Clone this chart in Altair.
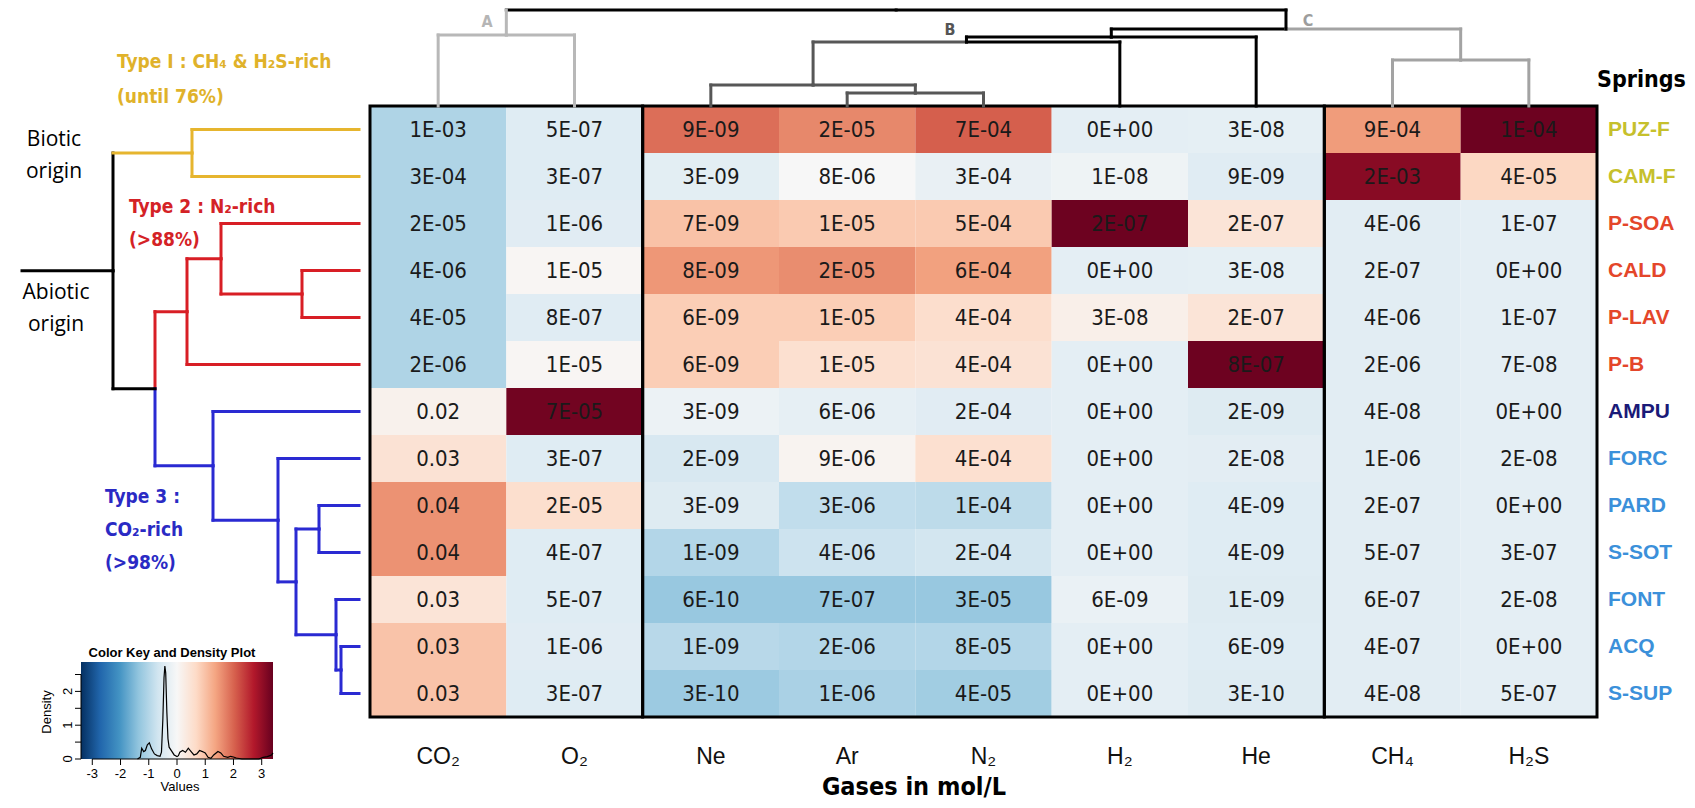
import altair as alt
import pandas as pd

# ---------------- data ----------------
springs = ["PUZ-F", "CAM-F", "P-SOA", "CALD", "P-LAV", "P-B", "AMPU",
           "FORC", "PARD", "S-SOT", "FONT", "ACQ", "S-SUP"]
spring_type = ["T1", "T1", "T2", "T2", "T2", "T2", "AMPU",
               "T3", "T3", "T3", "T3", "T3", "T3"]
gases = ["CO2", "O2", "Ne", "Ar", "N2", "H2", "He", "CH4", "H2S"]
gas_labels = ["CO₂", "O₂", "Ne", "Ar", "N₂", "H₂", "He", "CH₄", "H₂S"]
gas_groups = [["CO2", "O2"], ["Ne", "Ar", "N2", "H2", "He"], ["CH4", "H2S"]]

# concentrations shown in the cells (mol/L), one list per gas, rows in spring order
conc_CO2 = ["1E-03", "3E-04", "2E-05", "4E-06", "4E-05", "2E-06", "0.02", "0.03", "0.04", "0.04", "0.03", "0.03", "0.03"]
conc_O2 = ["5E-07", "3E-07", "1E-06", "1E-05", "8E-07", "1E-05", "7E-05", "3E-07", "2E-05", "4E-07", "5E-07", "1E-06", "3E-07"]
conc_Ne = ["9E-09", "3E-09", "7E-09", "8E-09", "6E-09", "6E-09", "3E-09", "2E-09", "3E-09", "1E-09", "6E-10", "1E-09", "3E-10"]
conc_Ar = ["2E-05", "8E-06", "1E-05", "2E-05", "1E-05", "1E-05", "6E-06", "9E-06", "3E-06", "4E-06", "7E-07", "2E-06", "1E-06"]
conc_N2 = ["7E-04", "3E-04", "5E-04", "6E-04", "4E-04", "4E-04", "2E-04", "4E-04", "1E-04", "2E-04", "3E-05", "8E-05", "4E-05"]
conc_H2 = ["0E+00", "1E-08", "2E-07", "0E+00", "3E-08", "0E+00", "0E+00", "0E+00", "0E+00", "0E+00", "6E-09", "0E+00", "0E+00"]
conc_He = ["3E-08", "9E-09", "2E-07", "3E-08", "2E-07", "8E-07", "2E-09", "2E-08", "4E-09", "4E-09", "1E-09", "6E-09", "3E-10"]
conc_CH4 = ["9E-04", "2E-03", "4E-06", "2E-07", "4E-06", "2E-06", "4E-08", "1E-06", "2E-07", "5E-07", "6E-07", "4E-07", "4E-08"]
conc_H2S = ["1E-04", "4E-05", "1E-07", "0E+00", "1E-07", "7E-08", "0E+00", "2E-08", "0E+00", "3E-07", "2E-08", "0E+00", "5E-07"]

# column-scaled values (z-scores)
z_CO2 = [-1.05, -1.05, -1.05, -1.05, -1.05, -1.05, 0.15, 0.5, 1.55, 1.55, 0.45, 0.98, 0.98]
z_O2 = [-0.43, -0.43, -0.4, 0.06, -0.42, 0.06, 3.3, -0.43, 0.58, -0.43, -0.43, -0.4, -0.43]
z_Ne = [1.9, -0.35, 1.0, 1.5, 0.85, 0.85, -0.2, -0.55, -0.45, -1.0, -1.3, -0.95, -1.25]
z_Ar = [1.65, 0.0, 0.9, 1.6, 0.85, 0.55, -0.3, 0.1, -0.85, -0.72, -1.3, -1.0, -1.1]
z_N2 = [2.05, -0.25, 0.9, 1.4, 0.6, 0.5, -0.4, 0.55, -0.9, -0.65, -1.3, -1.0, -1.2]
z_H2 = [-0.34, -0.16, 3.35, -0.34, 0.2, -0.34, -0.34, -0.34, -0.34, -0.34, -0.24, -0.34, -0.34]
z_He = [-0.32, -0.41, 0.45, -0.32, 0.45, 3.35, -0.44, -0.36, -0.43, -0.43, -0.45, -0.43, -0.45]
z_CH4 = [1.45, 3.1, -0.38, -0.38, -0.38, -0.38, -0.38, -0.37, -0.38, -0.38, -0.38, -0.38, -0.38]
z_H2S = [3.35, 0.72, -0.34, -0.34, -0.34, -0.34, -0.34, -0.34, -0.34, -0.34, -0.34, -0.34, -0.34]

conc_cols = [conc_CO2, conc_O2, conc_Ne, conc_Ar, conc_N2, conc_H2, conc_He, conc_CH4, conc_H2S]
z_cols = [z_CO2, z_O2, z_Ne, z_Ar, z_N2, z_H2, z_He, z_CH4, z_H2S]

# row dendrogram (springs): (child a, child b, merge height)
row_merges = [
    ("PUZ-F", "CAM-F", 167),   # m0
    ("CALD", "P-LAV", 57),     # m1
    ("P-SOA", "m1", 138),      # m2
    ("m2", "P-B", 172),        # m3
    ("PARD", "S-SOT", 40),     # m4
    ("ACQ", "S-SUP", 18),      # m5
    ("FONT", "m5", 23),        # m6
    ("m4", "m6", 63),          # m7
    ("FORC", "m7", 81),        # m8
    ("AMPU", "m8", 146),       # m9
    ("m3", "m9", 204),         # m10
    ("m0", "m10", 246),        # m11 (root)
]
row_stub_top = 337
row_leaf_colors = ["#e6b52e"] * 2 + ["#d81e25"] * 4 + ["#2a2ad2"] * 7
row_node_colors = ["#e6b52e", "#d81e25", "#d81e25", "#d81e25"] + ["#2a2ad2"] * 6 + ["black", "black"]

# column dendrogram (gases)
col_merges = [
    ("CO2", "O2", 71),   # m0  A
    ("Ar", "N2", 13),    # m1
    ("Ne", "m1", 21),    # m2
    ("m2", "H2", 64),    # m3
    ("m3", "He", 69),    # m4  B
    ("CH4", "H2S", 46),  # m5  C
    ("m4", "m5", 77),    # m6
    ("m0", "m6", 96),    # m7 (root)
]
col_leaf_colors = ["#b8b8b8", "#b8b8b8", "#575757", "#575757", "#575757", "black", "black", "#a3a3a3", "#a3a3a3"]
col_node_colors = ["#b8b8b8", "#575757", "#575757", "black", "black", "#a3a3a3", "black", "black"]

# colour key density curve (value, density)
key_vals = [-1.4, -1.3, -1.25, -1.18, -1.12, -1.05, -0.98, -0.9, -0.8, -0.7, -0.6, -0.55, -0.5, -0.46,
            -0.43, -0.4, -0.36, -0.32, -0.28, -0.2, -0.1, 0.0, 0.05, 0.1, 0.2, 0.3, 0.4, 0.5, 0.6,
            0.7, 0.8, 0.9, 1.0, 1.1, 1.2, 1.3, 1.45, 1.55, 1.65, 1.8, 1.9, 2.0, 2.1, 2.3, 2.9,
            3.05, 3.2, 3.35, 3.4]
key_dens = [0.0, 0.05, 0.32, 0.22, 0.25, 0.42, 0.48, 0.3, 0.15, 0.1, 0.08, 0.2, 1.2, 2.4,
            2.75, 2.55, 1.4, 0.6, 0.35, 0.25, 0.12, 0.07, 0.1, 0.2, 0.25, 0.2, 0.32, 0.22, 0.12,
            0.15, 0.25, 0.22, 0.18, 0.05, 0.02, 0.12, 0.22, 0.18, 0.08, 0.05, 0.08, 0.06, 0.03, 0.0, 0.0,
            0.05, 0.07, 0.12, 0.18]
key_x_ticks = [-3, -2, -1, 0, 1, 2, 3]
key_y_ticks = [0, 0.5, 1, 1.5, 2, 2.5]
key_y_labels = [0, 1, 2]

rdbu = ["#053061", "#2166ac", "#4393c3", "#92c5de", "#d1e5f0", "#f7f7f7",
        "#fddbc7", "#f4a582", "#d6604d", "#b2182b", "#67001f"]
key_stops = [-3.4, -2.72, -2.04, -1.36, -0.68, 0.0, 0.68, 1.36, 2.04, 2.72, 3.4]

# ---------------- layout ----------------
W, H = 1679, 792
HX = [362, 1589]
HY = [98, 709]
NARROW = "Liberation Sans Narrow, DejaVu Sans Condensed, Liberation Sans, sans-serif"
SANS = "Liberation Sans, Arial, sans-serif"
HUMAN = "Open Sans, Liberation Sans, sans-serif"

gx_band = alt.Scale(domain=gases, range=HX, paddingInner=0, paddingOuter=0)
sy_band = alt.Scale(domain=springs, range=HY, paddingInner=0, paddingOuter=0)
col_idx = alt.Scale(domain=[0, len(gases)], range=HX)
row_idx = alt.Scale(domain=[0, len(springs)], range=HY)

rows = []
for g, cl, zl in zip(gases, conc_cols, z_cols):
    for s, c, z in zip(springs, cl, zl):
        rows.append({"gas": g, "spring": s, "conc": c, "z": z})
heat_df = pd.DataFrame(rows)

heat = alt.Chart(heat_df).mark_rect().encode(
    x=alt.X("gas:N", scale=gx_band, axis=None),
    y=alt.Y("spring:N", scale=sy_band, axis=None),
    color=alt.Color("z:Q", scale=alt.Scale(domain=key_stops, range=rdbu, interpolate="rgb", clamp=True), legend=None),
)
cell_text = alt.Chart(heat_df).mark_text(font=NARROW, fontSize=22, color="#1a1a1a", baseline="middle").encode(
    x=alt.X("gas:N", scale=gx_band, axis=None),
    y=alt.Y("spring:N", scale=sy_band, axis=None),
    text="conc:N",
)

box_df = pd.DataFrame({
    "a": [gases.index(g[0]) for g in gas_groups],
    "b": [gases.index(g[-1]) + 1 for g in gas_groups],
    "r0": [0] * len(gas_groups),
    "r1": [len(springs)] * len(gas_groups),
})
boxes = alt.Chart(box_df).mark_rect(fillOpacity=0, stroke="black", strokeWidth=3).encode(
    x=alt.X("a:Q", scale=col_idx, axis=None), x2="b:Q",
    y=alt.Y("r0:Q", scale=row_idx, axis=None), y2="r1:Q",
)


def dendro(leaves, merges, leaf_colors, node_colors):
    pos = {l: i + 0.5 for i, l in enumerate(leaves)}
    hgt = {l: 0 for l in leaves}
    col = dict(zip(leaves, leaf_colors))
    for k, (a, b, h) in enumerate(merges):
        name = "m%d" % k
        pos[name] = (pos[a] + pos[b]) / 2
        hgt[name] = h
        col[name] = node_colors[k]
    root = "m%d" % (len(merges) - 1)
    segs = []
    for k, (a, b, h) in enumerate(merges):
        name = "m%d" % k
        for c in (a, b):
            segs.append({"h1": h, "h2": h, "p1": pos[name], "p2": pos[c],
                         "color": "black" if name == root else col[c]})
            segs.append({"h1": h, "h2": hgt[c], "p1": pos[c], "p2": pos[c], "color": col[c]})
    return segs, pos[root], hgt[root]


rsegs, rroot_pos, rroot_h = dendro(springs, row_merges, row_leaf_colors, row_node_colors)
rsegs.append({"h1": rroot_h, "h2": row_stub_top, "p1": rroot_pos, "p2": rroot_pos, "color": "black"})
row_dendro = alt.Chart(pd.DataFrame(rsegs)).mark_rule(strokeWidth=3, strokeCap="square").encode(
    x=alt.X("h1:Q", scale=alt.Scale(domain=[0, row_stub_top], range=[351, 14]), axis=None), x2="h2:Q",
    y=alt.Y("p1:Q", scale=row_idx, axis=None), y2="p2:Q",
    color=alt.Color("color:N", scale=None),
)

csegs, _, _ = dendro(gases, col_merges, col_leaf_colors, col_node_colors)
col_dendro = alt.Chart(pd.DataFrame(csegs)).mark_rule(strokeWidth=3, strokeCap="square").encode(
    x=alt.X("p1:Q", scale=col_idx, axis=None), x2="p2:Q",
    y=alt.Y("h1:Q", scale=alt.Scale(domain=[0, 96], range=[98, 2]), axis=None), y2="h2:Q",
    color=alt.Color("color:N", scale=None),
)

# row labels
row_lab = alt.Chart(pd.DataFrame({"spring": springs, "type": spring_type})).mark_text(
    font=SANS, fontSize=21, fontWeight="bold", align="left", baseline="middle").encode(
    x=alt.value(1600),
    y=alt.Y("spring:N", scale=sy_band, axis=None),
    text="spring:N",
    color=alt.Color("type:N", scale=alt.Scale(domain=["T1", "T2", "AMPU", "T3"],
                                               range=["#c6c02c", "#e4462a", "#1a1a78", "#3b90da"]), legend=None),
)
col_lab = alt.Chart(pd.DataFrame({"gas": gases, "lab": gas_labels})).mark_text(
    font=SANS, fontSize=23, baseline="middle", color="#111").encode(
    x=alt.X("gas:N", scale=gx_band, axis=None),
    y=alt.value(749),
    text="lab:N",
)


def note(text, x, y, size, color="black", font=NARROW, weight="normal", align="center", angle=0):
    return alt.Chart(pd.DataFrame({"t": [text]})).mark_text(
        font=font, fontSize=size, fontWeight=weight, color=color, align=align, baseline="middle", angle=angle
    ).encode(text="t:N", x=alt.value(x), y=alt.value(y))


YEL, RED, BLU = "#e0b22a", "#d42226", "#2a2ac4"
notes = [
    note("Springs", 1589, 72, 23, weight="bold", align="left"),
    note("Gases in mol/L", 906, 779, 25, weight="bold"),
    note("Type I : CH₄ & H₂S-rich", 109, 54, 19, YEL, weight="bold", align="left"),
    note("(until 76%)", 109, 89, 19, YEL, weight="bold", align="left"),
    note("Type 2 : N₂-rich", 121, 199, 19, RED, weight="bold", align="left"),
    note("(>88%)", 121, 232, 19, RED, weight="bold", align="left"),
    note("Type 3 :", 97, 489, 19, BLU, weight="bold", align="left"),
    note("CO₂-rich", 97, 522, 19, BLU, weight="bold", align="left"),
    note("(>98%)", 97, 555, 19, BLU, weight="bold", align="left"),
    note("Biotic", 46, 132, 21, font=HUMAN),
    note("origin", 46, 164, 21, font=HUMAN),
    note("Abiotic", 48, 285, 21, font=HUMAN),
    note("origin", 48, 317, 21, font=HUMAN),
    note("A", 479, 14, 16, "#b5b5b5", weight="bold"),
    note("B", 942, 22, 16, "#555555", weight="bold"),
    note("C", 1300, 13, 16, "#9d9d9d", weight="bold"),
    note("Color Key and Density Plot", 164, 645, 13, font=SANS, weight="bold"),
    note("Values", 172, 779, 13, font=SANS),
    note("Density", 39, 704, 13, font=SANS, angle=270),
]

# colour key
KX = alt.Scale(domain=[key_stops[0], key_stops[-1]], range=[73, 265])
KY = alt.Scale(domain=[0, 2.87], range=[751, 654])
grad = alt.Gradient(gradient="linear", x1=0, x2=1, y1=0, y2=0,
                    stops=[alt.GradientStop(color=c, offset=(v - key_stops[0]) / (key_stops[-1] - key_stops[0]))
                           for c, v in zip(rdbu, key_stops)])
key_rect = alt.Chart(pd.DataFrame({"lo": [key_stops[0]], "hi": [key_stops[-1]], "d0": [0], "d1": [2.87]})).mark_rect(
    fill=grad).encode(
    x=alt.X("lo:Q", scale=KX, axis=None), x2="hi:Q",
    y=alt.Y("d0:Q", scale=KY, axis=None), y2="d1:Q",
)
key_line = alt.Chart(pd.DataFrame({"v": key_vals, "d": key_dens})).mark_line(color="black", strokeWidth=1.2).encode(
    x=alt.X("v:Q", scale=KX, axis=None),
    y=alt.Y("d:Q", scale=KY, axis=None),
)
kxt = pd.DataFrame({"v": key_x_ticks, "lab": [str(t) for t in key_x_ticks]})
key_xtick = alt.Chart(kxt).mark_rule(color="black", strokeWidth=1).encode(
    x=alt.X("v:Q", scale=KX, axis=None), y=alt.value(751), y2=alt.value(757))
key_xlab = alt.Chart(kxt).mark_text(font=SANS, fontSize=13, baseline="middle").encode(
    x=alt.X("v:Q", scale=KX, axis=None), y=alt.value(766), text="lab:N")
key_xaxis = alt.Chart(pd.DataFrame({"a": [key_x_ticks[0]], "b": [key_x_ticks[-1]]})).mark_rule(color="black").encode(
    x=alt.X("a:Q", scale=KX, axis=None), x2="b:Q", y=alt.value(751))
kyt = pd.DataFrame({"v": key_y_ticks})
key_ytick = alt.Chart(kyt).mark_rule(color="black", strokeWidth=1).encode(
    y=alt.Y("v:Q", scale=KY, axis=None), x=alt.value(67), x2=alt.value(73))
key_ylab = alt.Chart(pd.DataFrame({"v": key_y_labels, "lab": [str(t) for t in key_y_labels]})).mark_text(
    font=SANS, fontSize=13, angle=270, baseline="middle").encode(
    y=alt.Y("v:Q", scale=KY, axis=None), x=alt.value(60), text="lab:N")
key_yaxis = alt.Chart(pd.DataFrame({"a": [key_y_ticks[0]], "b": [key_y_ticks[-1]]})).mark_rule(color="black").encode(
    y=alt.Y("a:Q", scale=KY, axis=None), y2="b:Q", x=alt.value(73))

layers = [heat, cell_text, boxes, row_dendro, col_dendro, row_lab, col_lab,
          key_rect, key_line, key_xaxis, key_xtick, key_xlab, key_yaxis, key_ytick, key_ylab] + notes

chart = alt.layer(*layers).resolve_scale(
    x="independent", y="independent", color="independent"
).properties(
    width=W, height=H, autosize=alt.AutoSizeParams(type="none"), padding=0
).configure_view(stroke=None)

chart.save("out.html", embed_options={"renderer": "svg", "actions": False})
